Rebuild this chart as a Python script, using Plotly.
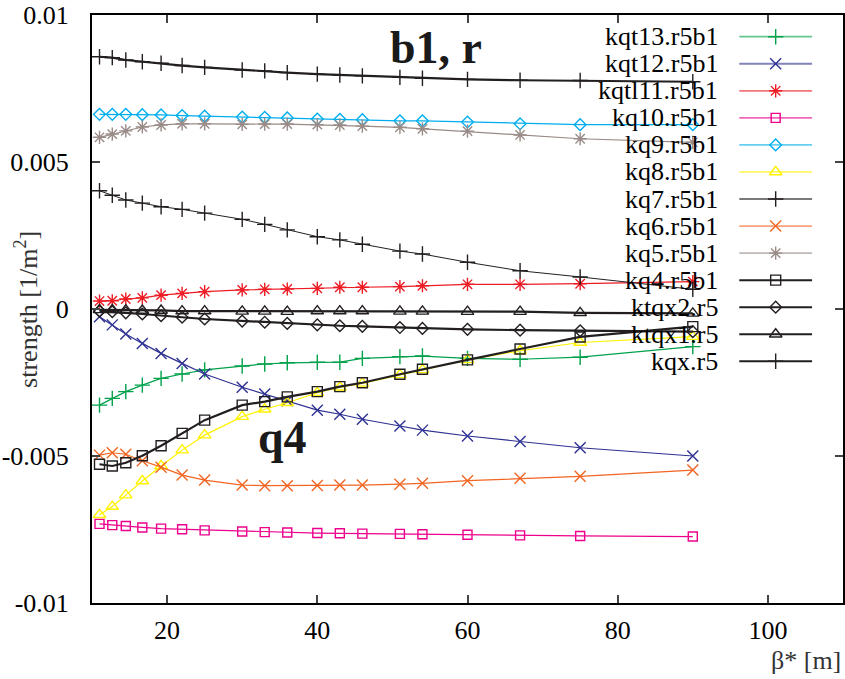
import plotly.graph_objects as go

beta = [11, 12.7, 14.5, 16.7, 19.2, 22, 25, 30, 33, 36, 40, 43, 46, 51, 54, 60, 67, 75, 90]

kqt13 = [-0.00327, -0.00304, -0.00281, -0.00259, -0.00236, -0.00221, -0.00207, -0.00194, -0.00187, -0.00183,
         -0.00181, -0.00181, -0.00168, -0.00162, -0.00160, -0.00168, -0.00171, -0.00164, -0.00128]
kqt12 = [-0.00026, -0.00054, -0.00085, -0.00117, -0.00151, -0.00185, -0.00221, -0.00266, -0.00289, -0.00312,
         -0.00344, -0.00358, -0.00375, -0.00398, -0.00412, -0.00432, -0.00451, -0.00472, -0.00500]
kqtl11 = [0.00027, 0.00028, 0.00034, 0.00038, 0.00047, 0.00053, 0.00059, 0.00065, 0.00067, 0.00068,
          0.00070, 0.00074, 0.00074, 0.00076, 0.00079, 0.00084, 0.00084, 0.00086, 0.00093]
kq10 = [-0.00731, -0.00735, -0.00738, -0.00743, -0.00747, -0.00749, -0.00753, -0.00757, -0.00759, -0.00760,
        -0.00762, -0.00763, -0.00764, -0.00765, -0.00766, -0.00768, -0.00770, -0.00772, -0.00774]
kq9 = [0.00662, 0.00662, 0.00662, 0.00661, 0.00660, 0.00658, 0.00656, 0.00653, 0.00652, 0.00650,
       0.00646, 0.00645, 0.00644, 0.00640, 0.00640, 0.00636, 0.00630, 0.00627, 0.00627]
kq8 = [-0.00700, -0.00672, -0.00633, -0.00585, -0.00534, -0.00480, -0.00429, -0.00366, -0.00341, -0.00319,
       -0.00285, -0.00266, -0.00253, -0.00224, -0.00207, -0.00173, -0.00142, -0.00114, -0.00094]
kq7 = [0.00402, 0.00387, 0.00371, 0.00360, 0.00348, 0.00339, 0.00326, 0.00305, 0.00288, 0.00269,
       0.00246, 0.00235, 0.00220, 0.00197, 0.00187, 0.00159, 0.00130, 0.00109, 0.00067]
kq6 = [-0.00497, -0.00489, -0.00494, -0.00516, -0.00538, -0.00565, -0.00582, -0.00599, -0.00601, -0.00601,
       -0.00600, -0.00599, -0.00599, -0.00596, -0.00593, -0.00584, -0.00576, -0.00569, -0.00548]
kq5 = [0.00584, 0.00595, 0.00606, 0.00619, 0.00626, 0.00630, 0.00630, 0.00628, 0.00629, 0.00629,
       0.00627, 0.00626, 0.00622, 0.00618, 0.00613, 0.00605, 0.00592, 0.00579, 0.00567]
kq4 = [-0.00528, -0.00534, -0.00523, -0.00499, -0.00465, -0.00423, -0.00378, -0.00327, -0.00315, -0.00299,
       -0.00281, -0.00264, -0.00251, -0.00222, -0.00205, -0.00173, -0.00136, -0.00095, -0.00060]
ktqx2 = [-0.00007, -0.00009, -0.00013, -0.00017, -0.00023, -0.00028, -0.00034, -0.00041, -0.00045, -0.00049,
         -0.00054, -0.00057, -0.00059, -0.00063, -0.00066, -0.00069, -0.00072, -0.00074, -0.00077]
ktqx1 = [-0.00003, -0.00003, -0.00004, -0.00005, -0.00005, -0.00007, -0.00007, -0.00008, -0.00008, -0.00009,
         -0.00007, -0.00007, -0.00007, -0.00008, -0.00008, -0.00009, -0.00009, -0.00013, -0.00015]
kqx = [0.00858, 0.00855, 0.00847, 0.00841, 0.00836, 0.00828, 0.00822, 0.00813, 0.00810, 0.00804,
       0.00799, 0.00796, 0.00793, 0.00788, 0.00785, 0.00781, 0.00778, 0.00777, 0.00773]

names = ["kqt13.r5b1", "kqt12.r5b1", "kqtl11.r5b1", "kq10.r5b1", "kq9.r5b1", "kq8.r5b1", "kq7.r5b1",
         "kq6.r5b1", "kq5.r5b1", "kq4.r5b1", "ktqx2.r5", "ktqx1.r5", "kqx.r5"]
series = [kqt13, kqt12, kqtl11, kq10, kq9, kq8, kq7, kq6, kq5, kq4, ktqx2, ktqx1, kqx]
colors = ["#00a14b", "#2e3192", "#ed1c24", "#ec008c", "#00aeef", "#fff200", "#231f20",
          "#f26522", "#998b87", "#231f20", "#231f20", "#231f20", "#231f20"]
symbols = ["cross-thin-open", "x-thin-open", "asterisk-open", "square-open", "diamond-open",
           "triangle-up-open", "cross-thin-open", "x-thin-open", "asterisk-open", "square-open",
           "diamond-open", "triangle-up-open", "cross-thin-open"]
msizes = [11, 11, 11, 9, 9, 11, 11, 11, 11, 10, 9, 11, 11]
lwidths = [1.2, 1.2, 1.2, 1.2, 1.2, 1.2, 1.0, 1.2, 1.2, 2.2, 2.2, 2.2, 2.2]

SERIF = "Liberation Serif, Times New Roman, serif"

fig = go.Figure()
for nm, ys, c, s, ms, lw in zip(names, series, colors, symbols, msizes, lwidths):
    fig.add_trace(go.Scatter(
        x=beta, y=ys, mode="lines+markers", name=nm, showlegend=False,
        line=dict(color=c, width=lw),
        marker=dict(symbol=s, size=ms, color=c, line=dict(color=c, width=1.4)),
    ))

# manual legend (pixel-like overlay axes)
leg_x0, leg_x1, leg_text_x = 741, 814, 722
leg_y0, leg_dy = 36.7, 27.05
for i, (nm, c, s, ms) in enumerate(zip(names, colors, symbols, msizes)):
    yy = leg_y0 + i * leg_dy
    fig.add_shape(type="line", xref="x2", yref="y2", x0=leg_x0, x1=leg_x1, y0=yy, y1=yy,
                  line=dict(color=c, width=2.0 if c == "#231f20" and i > 6 else 1.8), opacity=0.6 if i <= 8 else 1.0)
    fig.add_trace(go.Scatter(
        x=[(leg_x0 + leg_x1) / 2], y=[yy], xaxis="x2", yaxis="y2", mode="markers", showlegend=False,
        marker=dict(symbol=s, size=ms, color=c, line=dict(color=c, width=1.4)), hoverinfo="skip"))
    fig.add_annotation(xref="x2", yref="y2", x=leg_text_x, y=yy, text=nm, showarrow=False,
                       xanchor="right", yanchor="middle", font=dict(family=SERIF, size=26, color="black"))

fig.add_annotation(xref="x2", yref="y2", x=437, y=47, text="<b>b1, r</b>", showarrow=False,
                   xanchor="center", yanchor="middle", font=dict(family=SERIF, size=46, color="#1a1a1a"))
fig.add_annotation(xref="x2", yref="y2", x=283, y=437, text="<b>q4</b>", showarrow=False,
                   xanchor="center", yanchor="middle", font=dict(family=SERIF, size=46, color="#1a1a1a"))

# axis titles
fig.add_annotation(xref="paper", yref="paper", x=1, xanchor="right", y=-0.097, yanchor="middle",
                   text="β* [m]", showarrow=False, font=dict(family=SERIF, size=26, color="#333333"))
fig.add_annotation(xref="paper", yref="paper", x=-0.088, xanchor="center", y=0.5, yanchor="middle",
                   text="strength [1/m<sup>2</sup>]", textangle=-90, showarrow=False,
                   font=dict(family=SERIF, size=26, color="#333333"))

fig.update_layout(
    width=845, height=679,
    margin=dict(l=92, r=0, t=15, b=76),
    paper_bgcolor="white", plot_bgcolor="white",
    font=dict(family=SERIF, size=26, color="black"),
    xaxis=dict(range=[10, 110], tickvals=[20, 40, 60, 80, 100], ticks="inside", ticklen=8, tickwidth=2,
               showline=True, linewidth=2, linecolor="black", mirror="ticks", showgrid=False, zeroline=False,
               tickfont=dict(family=SERIF, size=26, color="black"), ticklabelstandoff=3),
    yaxis=dict(range=[-0.01, 0.01], tickvals=[-0.01, -0.005, 0, 0.005, 0.01],
               ticktext=["-0.01", "-0.005", "0", "0.005", "0.01"], ticks="inside", ticklen=8, tickwidth=2,
               showline=True, linewidth=2, linecolor="black", mirror="ticks", showgrid=False, zeroline=False,
               tickfont=dict(family=SERIF, size=26, color="black"), ticklabelstandoff=16),
    xaxis2=dict(range=[92, 845], overlaying="x", anchor="y2", visible=False, fixedrange=True),
    yaxis2=dict(range=[603, 15], overlaying="y", anchor="x2", visible=False, fixedrange=True),
)

fig.write_html("out.html")
